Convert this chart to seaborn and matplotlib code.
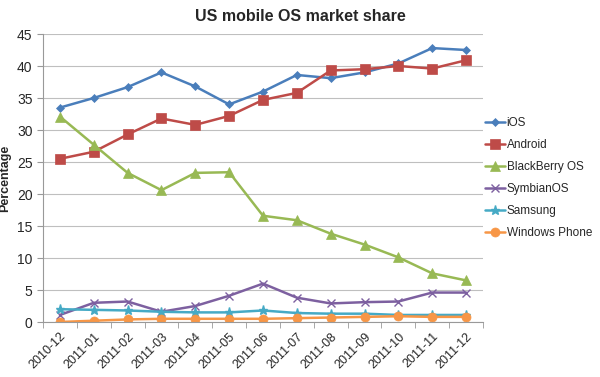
import pandas as pd
import matplotlib.pyplot as plt
import seaborn as sns

months = ['2010-12', '2011-01', '2011-02', '2011-03', '2011-04', '2011-05', '2011-06',
          '2011-07', '2011-08', '2011-09', '2011-10', '2011-11', '2011-12']
ios = [33.5, 35.0, 36.7, 39.0, 36.8, 34.0, 36.0, 38.6, 38.1, 39.0, 40.4, 42.8, 42.5]
android = [25.5, 26.6, 29.3, 31.8, 30.8, 32.2, 34.7, 35.8, 39.3, 39.5, 40.0, 39.6, 40.9]
blackberry = [32.1, 27.7, 23.3, 20.6, 23.3, 23.4, 16.6, 15.9, 13.8, 12.1, 10.1, 7.6, 6.5]
symbian = [1.1, 3.0, 3.2, 1.6, 2.5, 4.1, 6.0, 3.8, 2.9, 3.1, 3.2, 4.6, 4.6]
samsung = [2.0, 1.9, 1.8, 1.6, 1.5, 1.5, 1.8, 1.4, 1.3, 1.3, 1.1, 1.1, 1.1]
windows = [0.0, 0.2, 0.4, 0.5, 0.5, 0.5, 0.5, 0.6, 0.7, 0.8, 0.9, 0.8, 0.8]

series = ['iOS', 'Android', 'BlackBerry OS', 'SymbianOS', 'Samsung', 'Windows Phone']
values = [ios, android, blackberry, symbian, samsung, windows]
colors = ['#4A7EBB', '#BE4B48', '#98B954', '#7D60A0', '#46AAC5', '#F79646']
markers = ['D', 's', '^', 'x', '*', 'o']
sizes = [4.5, 6.5, 6.5, 6, 6.5, 6.5]

sns.set_style('white')
plt.rcParams['font.family'] = ['Liberation Sans', 'DejaVu Sans']

fig = plt.figure(figsize=(6, 3.77), dpi=100)
ax = fig.add_axes([43 / 600, 1 - 322 / 377, 440 / 600, 288 / 377])

x = list(range(len(months)))
for name, vals, c, m, s in zip(series, values, colors, markers, sizes):
    df = pd.DataFrame({'x': x, 'y': vals})
    sns.lineplot(data=df, x='x', y='y', ax=ax, color=c, marker=m, markersize=s,
                 markeredgecolor=c, markeredgewidth=1.0 if m in ('x', '*') else 0.5,
                 linewidth=1.8, label=name)

ax.set_xlim(-0.5, len(months) - 0.5)
ax.set_ylim(0, 45)
ax.set_yticks(range(0, 46, 5))
ax.yaxis.grid(True, color='#BFBFBF', linewidth=0.8)
ax.set_axisbelow(True)
ax.set_xticks(x)
ax.set_xticklabels(months, rotation=45, ha='right', rotation_mode='anchor', fontsize=9)
ax.set_xticks([i - 0.5 for i in range(len(months) + 1)], minor=True)
ax.tick_params(axis='x', which='major', length=0, pad=6)
ax.tick_params(axis='x', which='minor', length=4, color='#999999', direction='out', bottom=True)
ax.tick_params(axis='y', length=4, color='#999999', direction='out', labelsize=10, left=True)
for side in ['top', 'right']:
    ax.spines[side].set_visible(False)
for side in ['left', 'bottom']:
    ax.spines[side].set_color('#999999')
    ax.spines[side].set_linewidth(0.8)

ax.set_xlabel('')
ax.set_ylabel('Percentage', fontsize=9, fontweight='bold')
fig.suptitle('US mobile OS market share', x=0.5, y=0.975, fontsize=11.5, fontweight='bold')

ax.legend(loc='center left', bbox_to_anchor=(1.0, 0.5), frameon=False, fontsize=8.5,
          handlelength=1.7, handletextpad=0.1, labelspacing=0.85,
          borderaxespad=0.0, borderpad=0.2)

fig.savefig('out.png', dpi=100)
